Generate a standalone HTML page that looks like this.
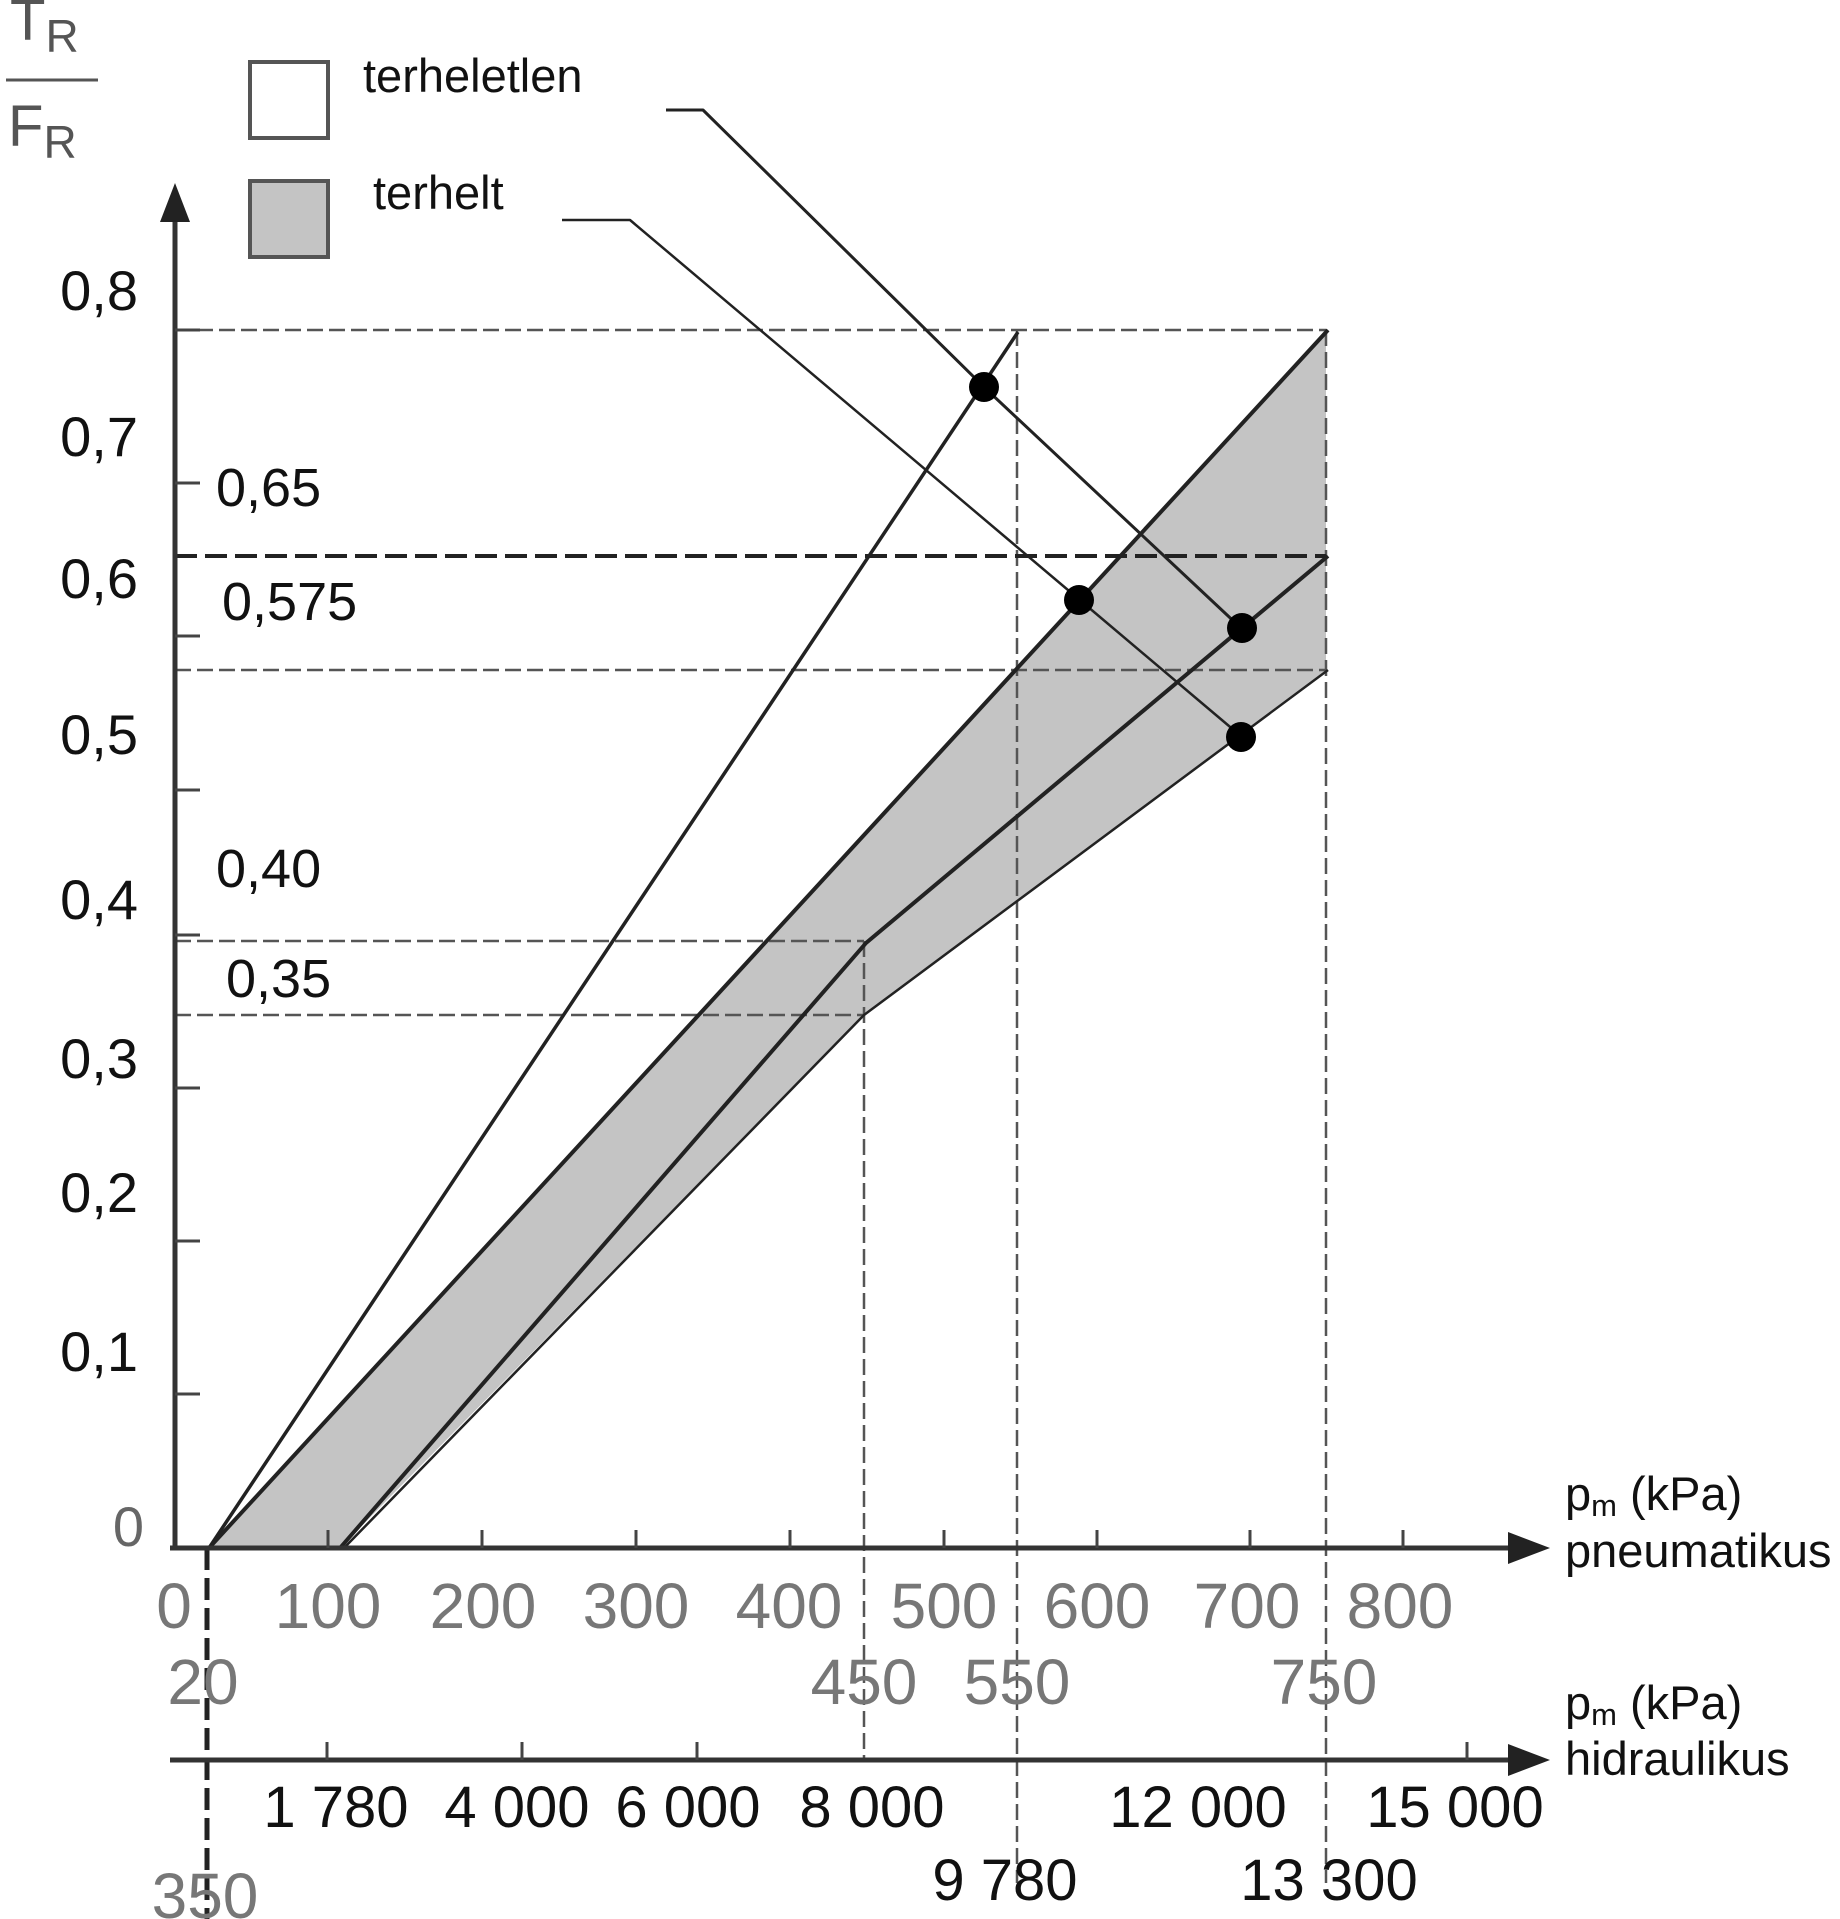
<!DOCTYPE html>
<html><head><meta charset="utf-8"><style>html,body{margin:0;padding:0;background:#fff}svg{display:block}</style></head>
<body>
<svg width="1840" height="1919" viewBox="0 0 1840 1919" xmlns="http://www.w3.org/2000/svg" font-family="'Liberation Sans', sans-serif">
<rect width="1840" height="1919" fill="#fff"/>
<polygon points="209,1548 1326,330 1326,670 864,1015 340,1548" fill="#c4c4c4"/>
<g stroke="#555" stroke-width="2.5" stroke-dasharray="16,6" fill="none">
<line x1="175" y1="330" x2="1326" y2="330"/>
<line x1="175" y1="670" x2="1326" y2="670"/>
<line x1="175" y1="941" x2="864" y2="941"/>
<line x1="175" y1="1015" x2="864" y2="1015"/>
<line x1="864" y1="941" x2="864" y2="1760"/>
<line x1="1017" y1="330" x2="1017" y2="1883"/>
<line x1="1326" y1="330" x2="1326" y2="1883"/>
</g>
<line x1="175" y1="556" x2="1326" y2="556" stroke="#222" stroke-width="4" stroke-dasharray="22,8"/>
<line x1="207" y1="1548" x2="207" y2="1919" stroke="#222" stroke-width="5" stroke-dasharray="22,8"/>
<g stroke="#222" fill="none" stroke-linejoin="round">
<line x1="209" y1="1548" x2="1018" y2="332" stroke-width="3.5"/>
<line x1="209" y1="1548" x2="1328" y2="330" stroke-width="4"/>
<polyline points="340,1548 866,943 1328,556" stroke-width="4"/>
<polyline points="344,1548 864,1015 1328,670" stroke-width="2.5"/>
<polyline points="666,110 703,110 985,388 1242,629" stroke-width="3"/>
<polyline points="562,220 630,220 1081,601 1242,737" stroke-width="2.5"/>
</g>
<g fill="#000">
<circle cx="984" cy="387" r="15"/>
<circle cx="1079" cy="600" r="15"/>
<circle cx="1242" cy="628" r="15"/>
<circle cx="1241" cy="737" r="15"/>
</g>
<g stroke="#333" stroke-width="5" fill="none">
<line x1="175" y1="1548" x2="175" y2="215"/>
<line x1="170" y1="1548" x2="1515" y2="1548"/>
<line x1="170" y1="1760" x2="1515" y2="1760"/>
</g>
<polygon points="175,183 160,222 190,222" fill="#222"/>
<polygon points="1550,1548 1508,1532 1508,1564" fill="#222"/>
<polygon points="1550,1760 1508,1744 1508,1776" fill="#222"/>
<g stroke="#444" stroke-width="3">
<line x1="328" y1="1548" x2="328" y2="1530"/><line x1="482" y1="1548" x2="482" y2="1530"/>
<line x1="636" y1="1548" x2="636" y2="1530"/><line x1="790" y1="1548" x2="790" y2="1530"/>
<line x1="944" y1="1548" x2="944" y2="1530"/><line x1="1097" y1="1548" x2="1097" y2="1530"/>
<line x1="1250" y1="1548" x2="1250" y2="1530"/><line x1="1403" y1="1548" x2="1403" y2="1530"/>
<line x1="327" y1="1760" x2="327" y2="1742"/><line x1="522" y1="1760" x2="522" y2="1742"/>
<line x1="697" y1="1760" x2="697" y2="1742"/><line x1="1467" y1="1760" x2="1467" y2="1742"/>
<line x1="175" y1="1394" x2="200" y2="1394"/><line x1="175" y1="1241" x2="200" y2="1241"/>
<line x1="175" y1="1088" x2="200" y2="1088"/><line x1="175" y1="935" x2="200" y2="935"/>
<line x1="175" y1="790" x2="200" y2="790"/><line x1="175" y1="636" x2="200" y2="636"/>
<line x1="175" y1="483" x2="200" y2="483"/><line x1="175" y1="330" x2="200" y2="330"/>
</g>
<rect x="250" y="62" width="78" height="76" fill="#fff" stroke="#555" stroke-width="4"/>
<rect x="250" y="181" width="78" height="76" fill="#c4c4c4" stroke="#555" stroke-width="4"/>
<text x="363" y="92" font-size="47" fill="#111">terheletlen</text>
<text x="373" y="209" font-size="47" fill="#111">terhelt</text>
<text x="10" y="40" font-size="58" fill="#555">T<tspan font-size="46" dy="12">R</tspan></text>
<line x1="6" y1="80" x2="98" y2="80" stroke="#555" stroke-width="3"/>
<text x="8" y="146" font-size="58" fill="#555">F<tspan font-size="46" dy="12">R</tspan></text>
<g font-size="56" fill="#111" text-anchor="end">
<text x="138" y="310">0,8</text><text x="138" y="456">0,7</text>
<text x="138" y="598">0,6</text><text x="138" y="754">0,5</text>
<text x="138" y="919">0,4</text><text x="138" y="1078">0,3</text>
<text x="138" y="1212">0,2</text><text x="138" y="1371">0,1</text>
<text x="144" y="1546" fill="#666">0</text>
</g>
<g font-size="54" fill="#111">
<text x="216" y="506">0,65</text><text x="222" y="620">0,575</text>
<text x="216" y="887">0,40</text><text x="226" y="997">0,35</text>
</g>
<g font-size="64" fill="#777" text-anchor="middle">
<text x="174" y="1628">0</text><text x="328" y="1628">100</text><text x="483" y="1628">200</text>
<text x="636" y="1628">300</text><text x="789" y="1628">400</text><text x="944" y="1628">500</text>
<text x="1097" y="1628">600</text><text x="1247" y="1628">700</text><text x="1400" y="1628">800</text>
<text x="203" y="1704">20</text><text x="864" y="1704">450</text><text x="1017" y="1704">550</text>
<text x="1324" y="1704">750</text>
<text x="205" y="1918">350</text>
</g>
<g font-size="58" fill="#111" text-anchor="middle">
<text x="336" y="1827">1 780</text><text x="517" y="1827">4 000</text><text x="688" y="1827">6 000</text>
<text x="872" y="1827">8 000</text><text x="1198" y="1827">12 000</text><text x="1455" y="1827">15 000</text>
<text x="1005" y="1900">9 780</text><text x="1329" y="1900">13 300</text>
</g>
<g font-size="47" fill="#111">
<text x="1565" y="1510">p<tspan font-size="31" dy="6">m</tspan><tspan dy="-6"> (kPa)</tspan></text>
<text x="1565" y="1567">pneumatikus</text>
<text x="1565" y="1719">p<tspan font-size="31" dy="6">m</tspan><tspan dy="-6"> (kPa)</tspan></text>
<text x="1565" y="1775">hidraulikus</text>
</g>
</svg>
</body></html>
